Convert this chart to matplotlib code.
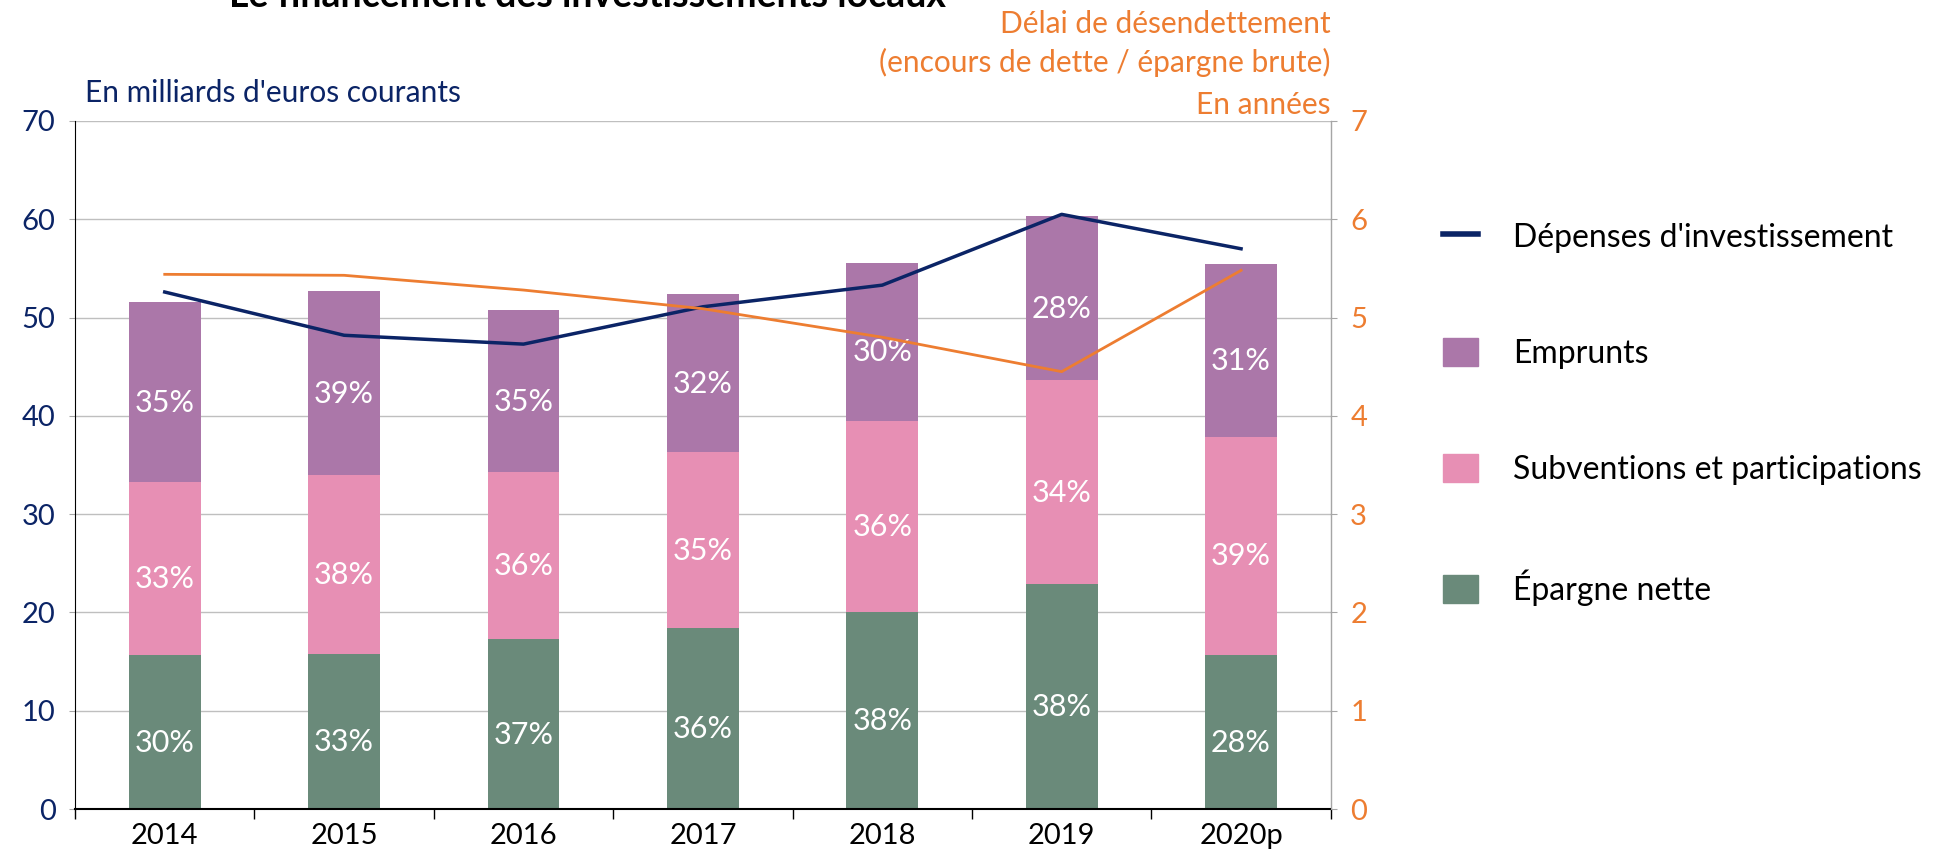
import numpy as np
import matplotlib
matplotlib.use("Agg")
import matplotlib.pyplot as plt
from matplotlib.patches import Patch
from matplotlib.lines import Line2D

plt.rcParams['font.family'] = ['Lato', 'DejaVu Sans']

annees = ['2014', '2015', '2016', '2017', '2018', '2019', '2020p']
epargne = [15.7, 15.8, 17.3, 18.4, 20.1, 22.9, 15.7]
subventions = [17.6, 18.2, 17.0, 17.9, 19.4, 20.7, 22.2]
emprunts = [18.3, 18.7, 16.5, 16.1, 16.1, 16.7, 17.5]
pct_epargne = ['30%', '33%', '37%', '36%', '38%', '38%', '28%']
pct_subv = ['33%', '38%', '36%', '35%', '36%', '34%', '39%']
pct_empr = ['35%', '39%', '35%', '32%', '30%', '28%', '31%']
depenses = [52.6, 48.2, 47.3, 51.1, 53.3, 60.5, 57.0]
delai = [5.44, 5.43, 5.28, 5.09, 4.80, 4.45, 5.48]

c_empr = '#AB77A9'
c_subv = '#E78FB4'
c_epar = '#6A8A7A'
c_navy = '#0B2466'
c_orange = '#ED7D31'

fig = plt.figure(figsize=(19.59, 8.58), dpi=100)
ax = fig.add_axes([0.0383, 0.057, 0.641, 0.802])
ax2 = ax.twinx()

x = np.arange(len(annees))
w = 0.40
ax.bar(x, epargne, w, color=c_epar, zorder=2)
ax.bar(x, subventions, w, bottom=epargne, color=c_subv, zorder=2)
bot3 = np.array(epargne) + np.array(subventions)
ax.bar(x, emprunts, w, bottom=bot3, color=c_empr, zorder=2)

# étiquettes en pourcentage
for i in range(len(x)):
    segs = [(0, epargne[i], pct_epargne[i]),
            (epargne[i], subventions[i], pct_subv[i]),
            (bot3[i], emprunts[i], pct_empr[i])]
    for bas, h, lab in segs:
        ax.text(x[i], bas + h / 2 - 1.1, lab, ha='center', va='center',
                color='white', fontsize=22, zorder=4)

ax.plot(x, depenses, color=c_navy, lw=2.5, zorder=3)
ax2.plot(x, delai, color=c_orange, lw=2.0, zorder=3)

ax.set_xlim(-0.5, len(annees) - 0.5)
ax.set_ylim(0, 70)
ax2.set_ylim(0, 7)
ax.set_yticks(range(0, 71, 10))
ax2.set_yticks(range(0, 8))
ax.yaxis.grid(True, color='#BFBFBF', lw=1.0, zorder=0)
ax.set_axisbelow(True)

ax.set_xticks(x)
ax.set_xticklabels(annees, fontsize=21, color='black')
ax.set_xticks(np.arange(-0.5, len(annees), 1.0), minor=True)
ax.tick_params(axis='x', which='major', length=0, pad=10)
ax.tick_params(axis='x', which='minor', length=7, color='black', width=1)
ax.tick_params(axis='y', labelsize=21, labelcolor=c_navy, length=4,
               color='#A6A6A6', pad=10)
ax2.tick_params(axis='y', labelsize=21, labelcolor=c_orange, length=4,
                color='#A6A6A6', pad=10)

ax.spines['top'].set_visible(False)
ax2.spines['top'].set_visible(False)
ax.spines['left'].set_color('black')
ax.spines['bottom'].set_color('black')
ax.spines['bottom'].set_linewidth(1.5)
ax2.spines['right'].set_color('#A6A6A6')
ax2.spines['left'].set_visible(False)
ax2.spines['bottom'].set_visible(False)

# textes
fig.text(0.30, 0.992, "Le financement des investissements locaux",
         ha='center', va='baseline', fontsize=27, fontweight='bold')
fig.text(0.0434, 0.892, "En milliards d'euros courants", color=c_navy,
         fontsize=21.5, ha='left', va='center')
for yy, t in [(0.972, "Délai de désendettement"),
              (0.927, "(encours de dette / épargne brute)"),
              (0.878, "En années")]:
    fig.text(0.679, yy, t, color=c_orange, fontsize=21.5, ha='right', va='center')

handles = [Line2D([0], [0], color=c_navy, lw=4),
           Patch(color=c_empr), Patch(color=c_subv), Patch(color=c_epar)]
labels = ["Dépenses d'investissement", "Emprunts",
          "Subventions et participations", "Épargne nette"]
fig.legend(handles, labels, loc='upper left', bbox_to_anchor=(0.722, 0.775),
           frameon=False, fontsize=23, labelspacing=2.65, handlelength=1.1,
           handleheight=1.0, handletextpad=1.1)

fig.savefig('out.png', dpi=100)
